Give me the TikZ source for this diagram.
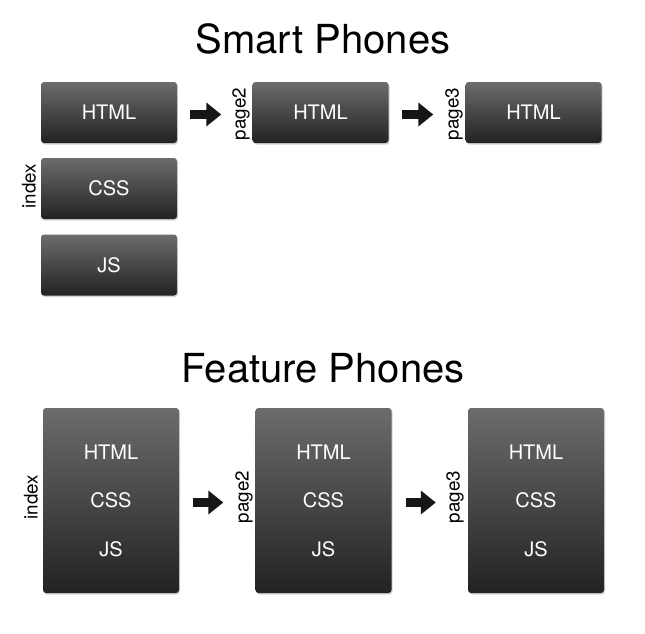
\documentclass[tikz,border=0pt]{standalone}
\usepackage{fontspec}
\setmainfont{TeX Gyre Heros}
\usetikzlibrary{shadows,arrows.meta}
\definecolor{boxtop}{RGB}{108,108,108}
\definecolor{boxbot}{RGB}{34,34,34}
\definecolor{arrowc}{RGB}{22,22,22}
\begin{document}
\begin{tikzpicture}[x=1pt,y=-1pt,
  box/.style={rounded corners=3pt, top color=boxtop, bottom color=boxbot, draw=none,
    drop shadow={opacity=0.35, shadow xshift=1pt, shadow yshift=-1.5pt},
    text=white, font=\fontsize{20}{22}\selectfont, inner sep=0pt},
  smallbox/.style={box, minimum width=136pt, minimum height=61pt},
  bigbox/.style={box, minimum width=136pt, minimum height=185pt},
  itemtxt/.style={text=white, font=\fontsize{20}{22}\selectfont, inner sep=0pt},
  sidelbl/.style={rotate=90, font=\fontsize{18.8}{20}\selectfont, inner sep=0pt},
  ttl/.style={font=\fontsize{40}{44}\selectfont, inner sep=0pt},
  bigarrow/.style={draw=arrowc, line width=9pt, -{Triangle[length=15pt,width=23pt]}}
]
\useasboundingbox (0,0) rectangle (645,633);
% titles
\node[ttl] (t1) at (323,39) {Smart Phones};
\node[ttl] (t2) at (323,368) {Feature Phones};
% smart phones
\node[smallbox] (s1) at (109,112.5) {HTML};
\node[smallbox] (s2) at (109,188.5) {CSS};
\node[smallbox] (s3) at (109,265) {JS};
\node[smallbox] (s4) at (320.5,112.5) {HTML};
\node[smallbox] (s5) at (533.5,112.5) {HTML};
\node[sidelbl] (li1) at (29,186) {index};
\node[sidelbl] (lp2) at (241,114) {page2};
\node[sidelbl] (lp3) at (454,114) {page3};
\draw[bigarrow, shorten <=13pt, shorten >=31pt] ([yshift=-2pt]s1.east) -- ([yshift=-2pt]s4.west);
\draw[bigarrow, shorten <=13pt, shorten >=32pt] ([yshift=-2pt]s4.east) -- ([yshift=-2pt]s5.west);
% feature phones
\node[bigbox] (f1) at (111,500.5) {};
\node[bigbox] (f2) at (323.5,500.5) {};
\node[bigbox] (f3) at (536,500.5) {};
\foreach \b in {f1,f2,f3}{
  \node[itemtxt] (\b h) at ([yshift=48.5pt]\b.center) {HTML};
  \node[itemtxt] (\b c) at (\b.center) {CSS};
  \node[itemtxt] (\b j) at ([yshift=-48.5pt]\b.center) {JS};
}
\node[sidelbl] (fl1) at (31,497) {index};
\node[sidelbl] (fl2) at (244,497) {page2};
\node[sidelbl] (fl3) at (455,497) {page3};
\draw[bigarrow, shorten <=14pt, shorten >=32pt] ([yshift=-2pt]f1.east) -- ([yshift=-2pt]f2.west);
\draw[bigarrow, shorten <=14pt, shorten >=32pt] ([yshift=-2pt]f2.east) -- ([yshift=-2pt]f3.west);
\end{tikzpicture}
\end{document}
